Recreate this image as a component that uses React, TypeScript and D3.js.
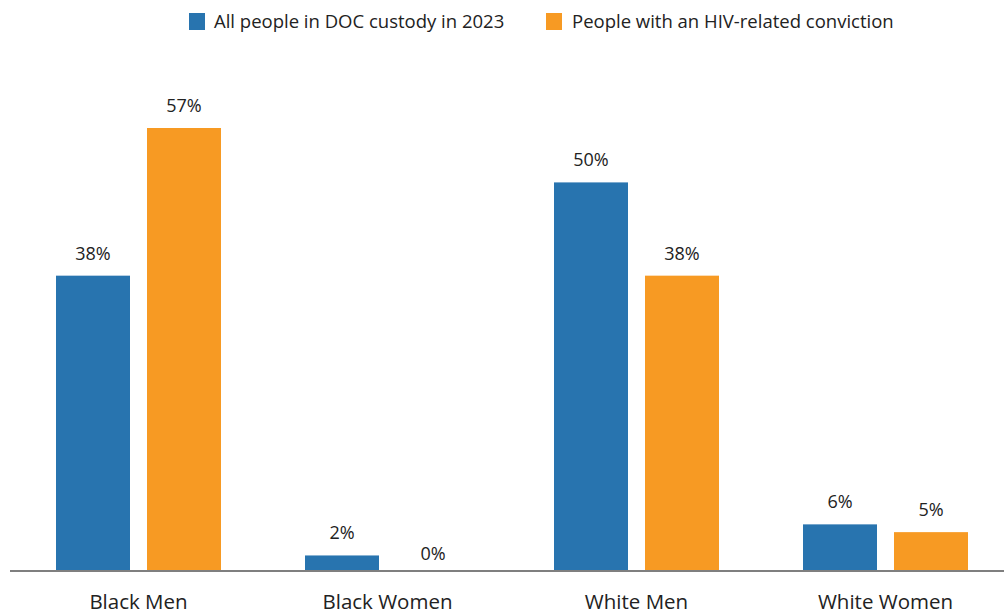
import React from "react";
import * as d3 from "d3";

const categories = ["Black Men", "Black Women", "White Men", "White Women"];
const seriesNames = ["All people in DOC custody in 2023", "People with an HIV-related conviction"];
const allCustody = [38, 2, 50, 6];
const hivConviction = [57, 0, 38, 5];
const colors = ["#2874AF", "#F79A23"];

const W = 1004;
const H = 613;
const FONT = "'Open Sans', 'Noto Sans', sans-serif";

export default function App() {
  const baseY = 571;
  const y = d3.scaleLinear().domain([0, 57]).range([baseY, 128]);
  const x0 = d3.scaleBand<string>().domain(categories).range([14, 1010]).paddingInner(0).paddingOuter(0);
  const groupW = 165;
  const x1 = d3.scaleBand<string>().domain(seriesNames).range([0, groupW]).paddingInner(17 / 91);
  const series = [allCustody, hivConviction];

  return (
    <svg width={W} height={H} style={{ position: "absolute", left: 0, top: 0, background: "#fff" }}>
      {/* legend */}
      <g fontFamily={FONT} fontSize={18.5} fill="#222">
        <rect x={189} y={13} width={16} height={17} fill={colors[0]} />
        <text x={214} y={28}>{seriesNames[0]}</text>
        <rect x={546} y={13} width={16} height={17} fill={colors[1]} />
        <text x={572} y={28}>{seriesNames[1]}</text>
      </g>
      {categories.map((c, i) => {
        const cx = (x0(c) ?? 0) + x0.bandwidth() / 2;
        const gx = cx - groupW / 2;
        return (
          <g key={c}>
            {seriesNames.map((s, j) => {
              const v = series[j][i];
              const bx = gx + (x1(s) ?? 0);
              return (
                <g key={s}>
                  <rect x={bx} y={y(v)} width={x1.bandwidth()} height={baseY - y(v)} fill={colors[j]} />
                  <text
                    x={bx + x1.bandwidth() / 2}
                    y={y(v) - (v === 0 ? 11 : 16)}
                    textAnchor="middle"
                    fontFamily={FONT}
                    fontSize={18}
                    fill="#222"
                  >
                    {v}%
                  </text>
                </g>
              );
            })}
            <text x={cx} y={609} textAnchor="middle" fontFamily={FONT} fontSize={20.5} fill="#222">
              {c}
            </text>
          </g>
        );
      })}
      <line x1={10} x2={W} y1={baseY} y2={baseY} stroke="#7f7f7f" strokeWidth={2} />
    </svg>
  );
}
